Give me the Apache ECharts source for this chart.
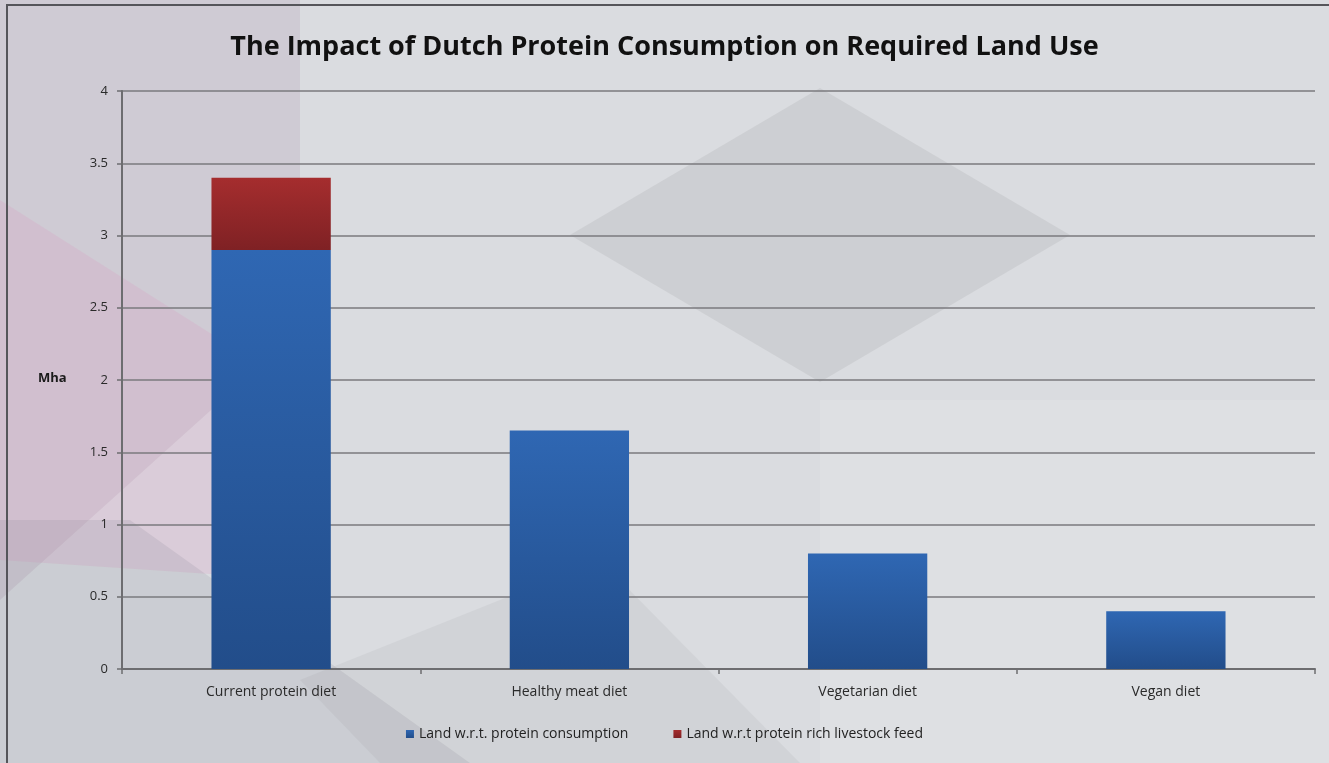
<!DOCTYPE html>
<html><head><meta charset="utf-8">
<script src="https://cdn.jsdelivr.net/npm/echarts@6/dist/echarts.min.js"></script>
<style>html,body{margin:0;padding:0;background:#dadce0}#c{width:1329px;height:763px}</style>
</head><body><div id="c"></div>
<script>
const categories = ['Current protein diet','Healthy meat diet','Vegetarian diet','Vegan diet'];
const landProtein = [2.9, 1.65, 0.8, 0.4];
const landFeed = [0.5, null, null, null];
const seriesNames = ['Land w.r.t. protein consumption','Land w.r.t protein rich livestock feed'];
const yTicks = [0,0.5,1,1.5,2,2.5,3,3.5,4];

const chart = echarts.init(document.getElementById('c'));
const blue = new echarts.graphic.LinearGradient(0,0,0,1,[{offset:0,color:'#2f67b3'},{offset:1,color:'#224d8a'}]);
const red = new echarts.graphic.LinearGradient(0,0,0,1,[{offset:0,color:'#a52d2e'},{offset:1,color:'#7f2124'}]);
chart.setOption({
  backgroundColor:'#dadce0',
  graphic:[
    {type:'polygon',silent:true,z:-10,shape:{points:[[0,0],[300,0],[300,330],[0,600]]},style:{fill:'rgba(150,120,150,0.16)'}},
    {type:'polygon',silent:true,z:-10,shape:{points:[[0,200],[300,390],[300,580],[0,560]]},style:{fill:'rgba(220,150,190,0.22)'}},
    {type:'polygon',silent:true,z:-10,shape:{points:[[820,88],[1070,235],[820,382],[570,235]]},style:{fill:'rgba(120,120,125,0.13)'}},
    {type:'polygon',silent:true,z:-10,shape:{points:[[0,520],[130,520],[470,763],[0,763]]},style:{fill:'rgba(110,110,120,0.13)'}},
    {type:'polygon',silent:true,z:-10,shape:{points:[[300,680],[600,560],[800,763],[380,763]]},style:{fill:'rgba(110,110,120,0.08)'}},
    {type:'polygon',silent:true,z:-10,shape:{points:[[820,400],[1329,400],[1329,763],[820,763]]},style:{fill:'rgba(255,255,255,0.12)'}},
    {type:'rect',silent:true,z:-5,shape:{x:7,y:5,width:1330,height:770},style:{fill:'none',stroke:'#55555a',lineWidth:2}},
    {type:'text',left:38,top:372,style:{text:'Mha',font:'bold 13px "Open Sans", sans-serif',fill:'#1a1a1a'}}
  ],
  title:{text:'The Impact of Dutch Protein Consumption on Required Land Use',left:'center',top:29,
    textStyle:{fontFamily:'"Open Sans", sans-serif',fontWeight:'bold',fontSize:27,color:'#111'}},
  grid:{left:122,right:14,top:91,bottom:94,containLabel:false},
  legend:{bottom:17,left:'center',itemWidth:8,itemHeight:8,itemGap:45,icon:'rect',
    textStyle:{fontFamily:'"Open Sans", sans-serif',fontSize:14,color:'#222'},data:seriesNames},
  xAxis:{type:'category',data:categories,
    axisLine:{lineStyle:{color:'#6d6d70',width:2}},
    axisTick:{show:true,length:5,lineStyle:{color:'#6d6d70',width:1.5}},
    axisLabel:{fontFamily:'"Open Sans", sans-serif',fontSize:14,color:'#2a2a2a',margin:16}},
  yAxis:{type:'value',min:0,max:4,interval:0.5,
    axisLine:{show:true,lineStyle:{color:'#6d6d70',width:2}},
    axisTick:{show:true,length:5,lineStyle:{color:'#6d6d70',width:1.5}},
    splitLine:{lineStyle:{color:'#7a7a7e',width:1.5}},
    axisLabel:{fontFamily:'"Open Sans", sans-serif',fontSize:13,color:'#2a2a2a',margin:14,
      formatter:v=>String(yTicks.find(t=>Math.abs(t-v)<1e-9) ?? v)}},
  series:[
    {name:seriesNames[0],type:'bar',stack:'a',barWidth:'40%',data:landProtein,itemStyle:{color:blue}},
    {name:seriesNames[1],type:'bar',stack:'a',barWidth:'40%',data:landFeed,itemStyle:{color:red}}
  ],
  color:['#2f67b3','#a52d2e']
});
</script></body></html>
